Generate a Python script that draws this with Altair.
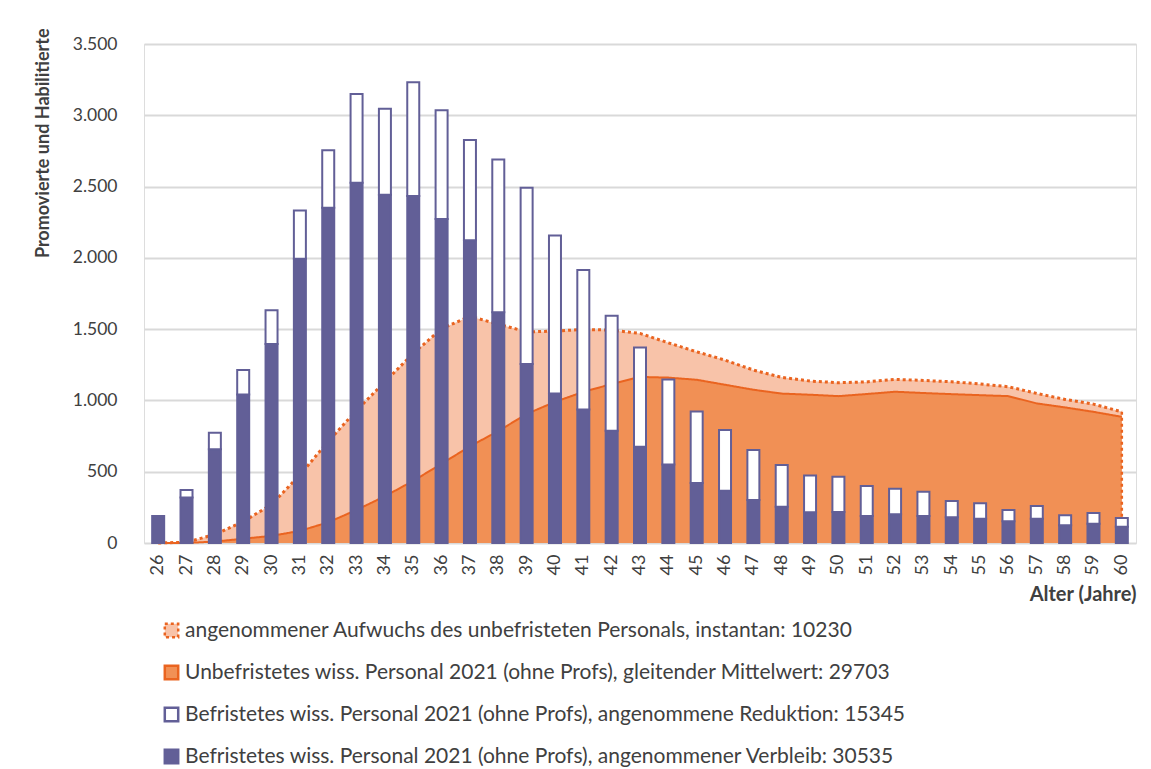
import altair as alt
import pandas as pd

FONT = "Lato"

ages = ["26", "27", "28", "29", "30", "31", "32", "33", "34", "35", "36", "37",
        "38", "39", "40", "41", "42", "43", "44", "45", "46", "47", "48", "49",
        "50", "51", "52", "53", "54", "55", "56", "57", "58", "59", "60"]

# Befristetes wiss. Personal, angenommener Verbleib (filled bars)
verbleib = [189, 320, 657, 1042, 1395, 1993, 2351, 2526, 2442, 2433, 2273, 2124,
            1619, 1255, 1049, 937, 787, 675, 551, 420, 367, 301, 255, 215,
            217, 189, 201, 189, 180, 170, 152, 170, 124, 135, 114]

# Befristetes wiss. Personal, angenommene Reduktion (outlined part on top)
reduktion = [0, 51, 116, 171, 238, 339, 404, 624, 603, 799, 762, 703,
             1071, 1236, 1108, 977, 807, 697, 596, 503, 425, 351, 292, 259,
             248, 211, 180, 171, 114, 108, 79, 89, 70, 75, 61]

# Unbefristetes wiss. Personal, gleitender Mittelwert (lower orange area)
unbefristet = [0, 0, 10, 30, 50, 85, 145, 232, 328, 436, 556, 678,
               785, 905, 990, 1060, 1115, 1165, 1160, 1145, 1110, 1075, 1048, 1040,
               1030, 1045, 1061, 1052, 1044, 1037, 1030, 979, 951, 920, 885]

# angenommener Aufwuchs (light area stacked on top of the lower area)
aufwuchs = [0, 5, 50, 120, 220, 392, 568, 698, 803, 894, 947, 912,
            750, 576, 496, 438, 378, 305, 244, 196, 173, 138, 114, 96,
            94, 85, 87, 88, 87, 78, 66, 70, 56, 54, 35]

labels = [
    "angenommener Aufwuchs des unbefristeten Personals, instantan: 10230",
    "Unbefristetes wiss. Personal 2021 (ohne Profs), gleitender Mittelwert: 29703",
    "Befristetes wiss. Personal 2021 (ohne Profs), angenommene Reduktion: 15345",
    "Befristetes wiss. Personal 2021 (ohne Profs), angenommener Verbleib: 30535",
]

PURPLE = "#625F97"
ORANGE_LINE = "#EA6420"
ORANGE_FILL = "#F19055"
SALMON = "#F8C3A9"
TEXT = "#404040"

fill_scale = alt.Scale(domain=labels, range=[SALMON, ORANGE_FILL, "#FFFFFF", PURPLE])
stroke_scale = alt.Scale(domain=labels, range=[ORANGE_LINE, ORANGE_LINE, PURPLE, PURPLE])
dash_scale = alt.Scale(domain=labels, range=[[3, 3], [1, 0], [1, 0], [1, 0]])

legend = alt.Legend(
    orient="none", legendX=17, legendY=576, direction="vertical", title=None,
    labelFont=FONT, labelFontSize=21, labelColor=TEXT, labelLimit=1200,
    symbolType="square", symbolSize=180, symbolStrokeWidth=2.5, rowPadding=17,
    labelOffset=3,
)

area_df = pd.DataFrame({
    "age": ages,
    "unbef": unbefristet,
    "auf": aufwuchs,
})
area_df["total"] = area_df["unbef"] + area_df["auf"]
area_df["s_auf"] = labels[0]
area_df["s_unbef"] = labels[1]

bar_df = pd.concat([
    pd.DataFrame({"age": ages, "value": verbleib, "series": labels[3], "ord": 0}),
    pd.DataFrame({"age": ages, "value": reduktion, "series": labels[2], "ord": 1}),
])

x_enc = alt.X("age:O", sort=ages, bandPosition=0.5,
              scale=alt.Scale(paddingInner=0, paddingOuter=0),
              axis=alt.Axis(title="Alter (Jahre)", labelAngle=-90, labelFont=FONT,
                            labelFontSize=18, labelColor=TEXT, labelPadding=11,
                            ticks=False, domain=False, grid=False,
                            titleFont=FONT, titleFontSize=20, titleFontWeight="bold",
                            titleColor=TEXT, titleAnchor="end", titlePadding=10))

y_scale = alt.Scale(domain=[0, 3500], nice=False)
y_axis = alt.Axis(title="Promovierte und Habilitierte", values=[0, 500, 1000, 1500, 2000, 2500, 3000, 3500],
                  labelExpr="replace(format(datum.value, ','), ',', '.')",
                  labelFont=FONT, labelFontSize=17.5, labelColor=TEXT, labelPadding=27,
                  ticks=False, domain=False, gridColor="#D9D9D9", gridWidth=2,
                  titleFont=FONT, titleFontSize=18, titleFontWeight="bold", titleColor=TEXT,
                  titleAnchor="end", titleAlign="right", titleY=-16, titlePadding=20)

base_area = alt.Chart(area_df)
xo = alt.X("age:O", sort=ages, bandPosition=0.5)

upper_area = base_area.mark_area(opacity=1).encode(
    x=x_enc,
    y=alt.Y("total:Q", scale=y_scale, axis=y_axis, stack=None),
    fill=alt.Fill("s_auf:N", scale=fill_scale, legend=legend),
)
lower_area = base_area.mark_area(opacity=1).encode(
    x=xo,
    y=alt.Y("unbef:Q", stack=None),
    fill=alt.Fill("s_unbef:N", scale=fill_scale, legend=legend),
)
upper_line = base_area.mark_line(strokeWidth=3, strokeCap="butt").encode(
    x=xo,
    y="total:Q",
    stroke=alt.Stroke("s_auf:N", scale=stroke_scale, legend=legend),
    strokeDash=alt.StrokeDash("s_auf:N", scale=dash_scale, legend=legend),
)
lower_line = base_area.mark_line(strokeWidth=2).encode(
    x=xo,
    y="unbef:Q",
    stroke=alt.Stroke("s_unbef:N", scale=stroke_scale, legend=legend),
    strokeDash=alt.StrokeDash("s_unbef:N", scale=dash_scale, legend=legend),
)
end_rule = base_area.transform_filter(alt.datum.age == ages[-1]).mark_rule(
    color=ORANGE_LINE, strokeWidth=2.5, strokeDash=[3, 3]
).encode(
    x=xo,
    y="total:Q",
    y2=alt.datum(0),
)

bars = alt.Chart(bar_df).transform_filter(alt.datum.value > 0).mark_bar(size=12, strokeWidth=2).encode(
    x=alt.X("age:O", sort=ages),
    y=alt.Y("value:Q", stack="zero"),
    fill=alt.Fill("series:N", scale=fill_scale, legend=legend),
    stroke=alt.Stroke("series:N", scale=stroke_scale, legend=legend),
    order=alt.Order("ord:Q"),
)

chart = alt.layer(upper_area, lower_area, upper_line, lower_line, end_rule, bars).properties(
    width=992, height=499,
    padding={"left": 26, "top": 20, "right": 5, "bottom": 5},
).configure_view(stroke=None).configure(background="white")

chart.save("out.html", embed_options={"renderer": "svg", "actions": False})
